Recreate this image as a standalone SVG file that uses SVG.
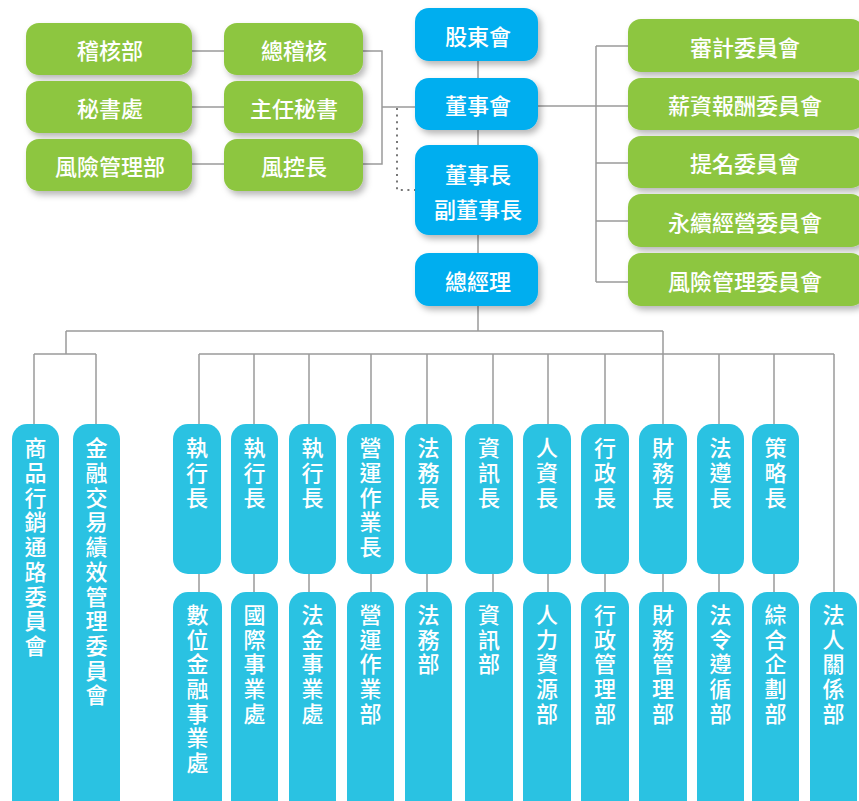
<svg xmlns="http://www.w3.org/2000/svg" width="859" height="801" viewBox="0 0 859 801">
<defs>
<filter id="sh" x="-20%" y="-20%" width="150%" height="160%">
<feDropShadow dx="3" dy="4" stdDeviation="3" flood-color="#000" flood-opacity="0.28"/>
</filter>
<style>
.g{fill:#8DC63F;filter:url(#sh)}
.b{fill:#00AEEF;filter:url(#sh)}
.c{fill:#2AC2E2}
text{font-family:"Noto Sans CJK TC","Noto Sans CJK SC",sans-serif;font-size:22px;font-weight:500;fill:#fff;text-anchor:middle;dominant-baseline:central}
text.v{writing-mode:vertical-rl;text-orientation:upright;text-anchor:start;letter-spacing:2.7px}
.ln{fill:none;stroke:#9B9B9B;stroke-width:1.5}
.dot{fill:none;stroke:#777;stroke-width:2;stroke-dasharray:2 4.6}
</style>
</defs>
<rect width="859" height="801" fill="#fff"/>
<g id="connectors">
<path class="ln" d="M192 51H224M192 107H224M192 164H224M363 51H382V164H363M382 107H416"/>
<path class="dot" d="M397 108V190H416"/>
<path class="ln" d="M478 61V78M478 130V145M478 235V253M478 306V331"/>
<path class="ln" d="M538 106H628M596 46V282M596 46H628M596 163H628M596 221H628M596 282H628"/>
<path class="ln" d="M66 331H663M66 331V354M34 354H96M34 354V424M96 354V424"/>
<path class="ln" d="M199 354H834M663 331V424M199 354V424M254 354V424M309 354V424M371 354V424M427 354V424M493 354V424M548 354V424M605 354V424M719 354V424M774 354V424M834 354V592"/>
<path class="ln" d="M199 574V592M254 574V592M309 574V592M371 574V592M427 574V592M493 574V592M548 574V592M605 574V592M663 574V592M719 574V592M774 574V592"/>
</g>
<g id="n-jihe"><rect class="g" x="26" y="23" width="166" height="52" rx="13"/><text x="110" y="49">稽核部</text></g>
<g id="n-mishu"><rect class="g" x="26" y="81" width="166" height="52" rx="13"/><text x="110" y="107">秘書處</text></g>
<g id="n-fengxian"><rect class="g" x="26" y="139" width="166" height="52" rx="13"/><text x="110" y="165">風險管理部</text></g>
<g id="n-zongjihe"><rect class="g" x="224" y="23" width="139" height="52" rx="13"/><text x="294" y="49">總稽核</text></g>
<g id="n-zhuren"><rect class="g" x="224" y="81" width="139" height="52" rx="13"/><text x="294" y="107">主任秘書</text></g>
<g id="n-fengkong"><rect class="g" x="224" y="139" width="139" height="52" rx="13"/><text x="294" y="165">風控長</text></g>
<g id="n-gudong"><rect class="b" x="415" y="8" width="123" height="53" rx="14"/><text x="478" y="35">股東會</text></g>
<g id="n-dongshihui"><rect class="b" x="415" y="78" width="123" height="52" rx="14"/><text x="478" y="104">董事會</text></g>
<g id="n-dongshizhang"><rect class="b" x="415" y="145" width="123" height="90" rx="14"/><text x="478" y="173">董事長</text><text x="478" y="208">副董事長</text></g>
<g id="n-zongjingli"><rect class="b" x="415" y="253" width="123" height="53" rx="14"/><text x="478" y="280">總經理</text></g>
<g id="n-shenji"><rect class="g" x="628" y="19" width="236" height="53" rx="13"/><text x="745" y="46">審計委員會</text></g>
<g id="n-xinzi"><rect class="g" x="628" y="78" width="236" height="52" rx="13"/><text x="745" y="104">薪資報酬委員會</text></g>
<g id="n-timing"><rect class="g" x="628" y="136" width="236" height="52" rx="13"/><text x="745" y="162">提名委員會</text></g>
<g id="n-yongxu"><rect class="g" x="628" y="194" width="236" height="53" rx="13"/><text x="745" y="221">永續經營委員會</text></g>
<g id="n-fxwy"><rect class="g" x="628" y="253" width="236" height="53" rx="13"/><text x="745" y="280">風險管理委員會</text></g>
<g id="n-shangpin"><rect class="c" x="12" y="424" width="47" height="395" rx="15"/><text class="v" x="35.5" y="437">商品行銷通路委員會</text></g>
<g id="n-jinrong"><rect class="c" x="73" y="424" width="47" height="395" rx="15"/><text class="v" x="96.5" y="437">金融交易績效管理委員會</text></g>
<g id="n-zx1"><rect class="c" x="173" y="424" width="48" height="150" rx="15"/><text class="v" x="197" y="437">執行長</text></g>
<g id="n-zx2"><rect class="c" x="231" y="424" width="47" height="150" rx="15"/><text class="v" x="254.5" y="437">執行長</text></g>
<g id="n-zx3"><rect class="c" x="289" y="424" width="47" height="150" rx="15"/><text class="v" x="312.5" y="437">執行長</text></g>
<g id="n-yy"><rect class="c" x="347" y="424" width="47" height="150" rx="15"/><text class="v" x="370.5" y="437">營運作業長</text></g>
<g id="n-fw"><rect class="c" x="405" y="424" width="47" height="150" rx="15"/><text class="v" x="428.5" y="437">法務長</text></g>
<g id="n-zxz"><rect class="c" x="465" y="424" width="48" height="150" rx="15"/><text class="v" x="489" y="437">資訊長</text></g>
<g id="n-rz"><rect class="c" x="523" y="424" width="48" height="150" rx="15"/><text class="v" x="547" y="437">人資長</text></g>
<g id="n-xz"><rect class="c" x="581" y="424" width="48" height="150" rx="15"/><text class="v" x="605" y="437">行政長</text></g>
<g id="n-cw"><rect class="c" x="639" y="424" width="48" height="150" rx="15"/><text class="v" x="663" y="437">財務長</text></g>
<g id="n-fz"><rect class="c" x="697" y="424" width="47" height="150" rx="15"/><text class="v" x="720.5" y="437">法遵長</text></g>
<g id="n-cl"><rect class="c" x="752" y="424" width="47" height="150" rx="15"/><text class="v" x="775.5" y="437">策略長</text></g>
<g id="n-szjr"><rect class="c" x="173" y="592" width="49" height="227" rx="15"/><text class="v" x="197.5" y="603.5">數位金融事業處</text></g>
<g id="n-gj"><rect class="c" x="231" y="592" width="47" height="227" rx="15"/><text class="v" x="254.5" y="603.5">國際事業處</text></g>
<g id="n-fj"><rect class="c" x="289" y="592" width="47" height="227" rx="15"/><text class="v" x="312.5" y="603.5">法金事業處</text></g>
<g id="n-yyb"><rect class="c" x="347" y="592" width="47" height="227" rx="15"/><text class="v" x="370.5" y="603.5">營運作業部</text></g>
<g id="n-fwb"><rect class="c" x="405" y="592" width="47" height="227" rx="15"/><text class="v" x="428.5" y="603.5">法務部</text></g>
<g id="n-zxb"><rect class="c" x="465" y="592" width="48" height="227" rx="15"/><text class="v" x="489" y="603.5">資訊部</text></g>
<g id="n-rlzy"><rect class="c" x="523" y="592" width="48" height="227" rx="15"/><text class="v" x="547" y="603.5">人力資源部</text></g>
<g id="n-xzgl"><rect class="c" x="581" y="592" width="48" height="227" rx="15"/><text class="v" x="605" y="603.5">行政管理部</text></g>
<g id="n-cwgl"><rect class="c" x="639" y="592" width="48" height="227" rx="15"/><text class="v" x="663" y="603.5">財務管理部</text></g>
<g id="n-flzx"><rect class="c" x="697" y="592" width="47" height="227" rx="15"/><text class="v" x="720.5" y="603.5">法令遵循部</text></g>
<g id="n-zhqh"><rect class="c" x="752" y="592" width="47" height="227" rx="15"/><text class="v" x="775.5" y="603.5">綜合企劃部</text></g>
<g id="n-frgx"><rect class="c" x="810" y="592" width="47" height="227" rx="15"/><text class="v" x="833.5" y="603.5">法人關係部</text></g>
</svg>
